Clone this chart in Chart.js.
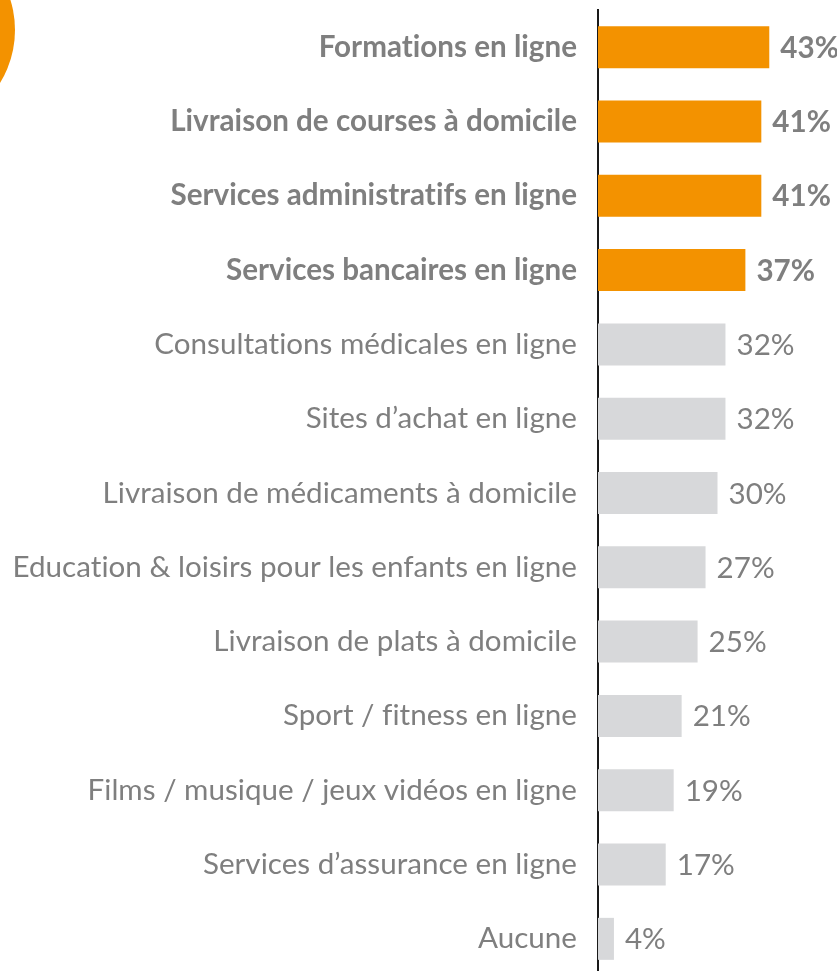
<!DOCTYPE html>
<html>
<head>
<meta charset="utf-8">
<script src="https://cdn.jsdelivr.net/npm/chart.js@4"></script>
<style>
  html, body { margin: 0; padding: 0; background: #fff; overflow: hidden; }
  #wrap { position: relative; width: 837px; height: 976px; }
  #dot { position: absolute; left: -187px; top: -71px; width: 202px; height: 202px; border-radius: 50%; background: #f39200; }
</style>
</head>
<body>
<div id="wrap">
  <div id="dot"></div>
  <canvas id="myChart" width="837" height="976"></canvas>
</div>
<script>
// données
var categories = [
  "Formations en ligne",
  "Livraison de courses à domicile",
  "Services administratifs en ligne",
  "Services bancaires en ligne",
  "Consultations médicales en ligne",
  "Sites d’achat en ligne",
  "Livraison de médicaments à domicile",
  "Education & loisirs pour les enfants en ligne",
  "Livraison de plats à domicile",
  "Sport / fitness en ligne",
  "Films / musique / jeux vidéos en ligne",
  "Services d’assurance en ligne",
  "Aucune"
];
var values = [43, 41, 41, 37, 32, 32, 30, 27, 25, 21, 19, 17, 4];
var highlighted = [true, true, true, true, false, false, false, false, false, false, false, false, false];

var ORANGE = "#f39200";
var GREY_BAR = "#d7d8da";
var TEXT = "#7f7f7f";
var FAMILY = "Lato, 'Open Sans', sans-serif";

// taille de police : le plus long libellé fait ~565px
var mc = document.createElement("canvas").getContext("2d");
mc.letterSpacing = "0.01px";
mc.font = "100px " + FAMILY;
var fontSize = Math.round(100 * 565 / mc.measureText(categories[7]).width * 10) / 10;

// pas de ligatures (ti, fi)
var noLigatures = {
  id: "noLigatures",
  beforeDraw: function(chart) { chart.ctx.letterSpacing = "0.01px"; }
};

// étiquettes de valeur à droite des barres
var valueLabels = {
  id: "valueLabels",
  afterDatasetsDraw: function(chart) {
    var ctx = chart.ctx;
    var meta = chart.getDatasetMeta(0);
    ctx.save();
    ctx.fillStyle = TEXT;
    ctx.textAlign = "left";
    ctx.textBaseline = "middle";
    meta.data.forEach(function(bar, i) {
      ctx.font = (highlighted[i] ? "bold " : "") + fontSize + "px " + FAMILY;
      ctx.fillText(values[i] + "%", bar.x + 11, bar.y + 1);
    });
    ctx.restore();
  }
};

var ctx = document.getElementById("myChart").getContext("2d");
var myChart = new Chart(ctx, {
  type: "bar",
  data: {
    labels: categories,
    datasets: [{
      data: values,
      backgroundColor: highlighted.map(function(h) { return h ? ORANGE : GREY_BAR; }),
      categoryPercentage: 1,
      barPercentage: 0.565
    }]
  },
  options: {
    indexAxis: "y",
    responsive: false,
    animation: false,
    layout: { padding: { top: 10, right: 0, bottom: 0, left: 0 } },
    plugins: { legend: { display: false }, tooltip: { enabled: false } },
    scales: {
      x: { display: false, min: 0, max: 60 },
      y: {
        z: 1,
        afterFit: function(scale) {
          scale.width = 598;
          scale.paddingTop = 0;
          scale.paddingBottom = 0;
        },
        grid: { display: false, drawTicks: false },
        border: { display: true, color: "#1a1a1a", width: 2 },
        ticks: {
          padding: 21,
          color: TEXT,
          autoSkip: false,
          font: function(c) {
            return { family: FAMILY, size: fontSize, weight: highlighted[c.index] ? "bold" : "normal" };
          }
        }
      }
    }
  },
  plugins: [noLigatures, valueLabels]
});
</script>
</body>
</html>
